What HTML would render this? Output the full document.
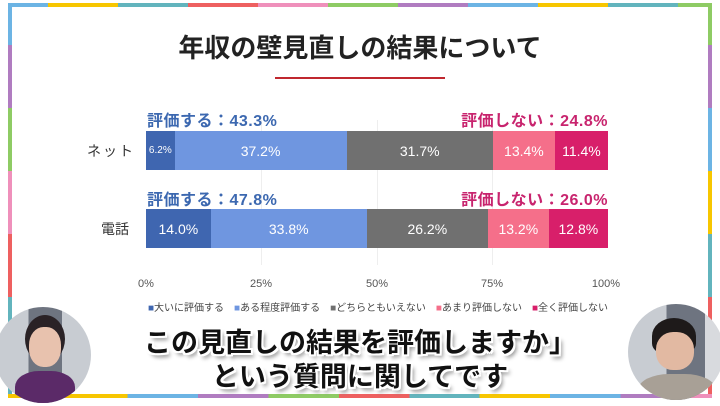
<!DOCTYPE html><html><head><meta charset="utf-8"><style>
body{margin:0;width:720px;height:406px;background:#fff;position:relative;overflow:hidden;font-family:"Liberation Sans","Noto Sans CJK JP",sans-serif}
.a{position:absolute}
.seg{position:absolute}
.bar{position:absolute;height:39px;display:flex}
.bar div{height:100%;color:#fff;font-size:14px;display:flex;align-items:center;justify-content:center}
.grid{position:absolute;top:120px;width:1px;height:145px;background:#eee}
.tick{position:absolute;top:278px;font-size:11px;color:#555;width:40px;margin-left:-20px;text-align:center}
.lab{position:absolute;font-size:16px;font-weight:bold;letter-spacing:0.5px}
.sub{position:absolute;left:0;width:720px;text-align:center;font-weight:bold;font-size:27px;color:#111;text-shadow:2px 2px 0 #fff,-2px -2px 0 #fff,2px -2px 0 #fff,-2px 2px 0 #fff,0 2px 0 #fff,2px 0 0 #fff,-2px 0 0 #fff,0 -2px 0 #fff,3px 4px 4px #888}
</style></head><body>
<div class="a" style="left:8px;top:3px;width:704px;height:395px;border:4px solid #eee;border-radius:5px;box-sizing:border-box"></div>
<div class="seg" style="left:8px;top:3px;width:40px;height:4px;background:#6cb4e4"></div>
<div class="seg" style="left:48px;top:3px;width:70px;height:4px;background:#f7c600"></div>
<div class="seg" style="left:118px;top:3px;width:70px;height:4px;background:#62b4bd"></div>
<div class="seg" style="left:188px;top:3px;width:70px;height:4px;background:#ee6060"></div>
<div class="seg" style="left:258px;top:3px;width:70px;height:4px;background:#ef90bb"></div>
<div class="seg" style="left:328px;top:3px;width:70px;height:4px;background:#8ecb64"></div>
<div class="seg" style="left:398px;top:3px;width:70px;height:4px;background:#b07cc0"></div>
<div class="seg" style="left:468px;top:3px;width:70px;height:4px;background:#6cb4e4"></div>
<div class="seg" style="left:538px;top:3px;width:70px;height:4px;background:#f7c600"></div>
<div class="seg" style="left:608px;top:3px;width:70px;height:4px;background:#62b4bd"></div>
<div class="seg" style="left:678px;top:3px;width:34px;height:4px;background:#8ecb64"></div>
<div class="seg" style="left:8px;top:3px;width:4px;height:42px;background:#6cb4e4"></div>
<div class="seg" style="left:8px;top:45px;width:4px;height:63px;background:#b07cc0"></div>
<div class="seg" style="left:8px;top:108px;width:4px;height:63px;background:#8ecb64"></div>
<div class="seg" style="left:8px;top:171px;width:4px;height:63px;background:#ef90bb"></div>
<div class="seg" style="left:8px;top:234px;width:4px;height:63px;background:#ee6060"></div>
<div class="seg" style="left:8px;top:297px;width:4px;height:101px;background:#62b4bd"></div>
<div class="seg" style="left:708px;top:3px;width:4px;height:42px;background:#8ecb64"></div>
<div class="seg" style="left:708px;top:45px;width:4px;height:63px;background:#b07cc0"></div>
<div class="seg" style="left:708px;top:108px;width:4px;height:63px;background:#6cb4e4"></div>
<div class="seg" style="left:708px;top:171px;width:4px;height:63px;background:#f7c600"></div>
<div class="seg" style="left:708px;top:234px;width:4px;height:63px;background:#62b4bd"></div>
<div class="seg" style="left:708px;top:297px;width:4px;height:101px;background:#ee6060"></div>
<div class="seg" style="left:8px;top:394px;width:704px;height:4px;background:linear-gradient(90deg,#f7c600 0 17%,#6cb4e4 17% 27%,#b07cc0 27% 37%,#8ecb64 37% 47%,#ee6060 47% 57%,#62b4bd 57% 67%,#f7c600 67% 77%,#6cb4e4 77% 87%,#b07cc0 87% 97%,#ef90bb 97%)"></div>

<div class="a" style="left:0;top:28px;width:720px;text-align:center;font-size:26px;font-weight:bold;color:#222">年収の壁見直しの結果について</div>
<div class="a" style="left:275px;top:77px;width:170px;height:2px;background:#c0282f"></div>

<div class="grid" style="left:261px"></div><div class="grid" style="left:377px"></div><div class="grid" style="left:492px"></div>

<div class="lab" style="left:147px;top:107px;color:#3c68b0">評価する：43.3%</div>
<div class="lab" style="left:440px;top:107px;color:#c8246e;width:168px;text-align:right">評価しない：24.8%</div>
<div class="lab" style="left:147px;top:186px;color:#3c68b0">評価する：47.8%</div>
<div class="lab" style="left:440px;top:186px;color:#c8246e;width:168px;text-align:right">評価しない：26.0%</div>
<div class="a" style="left:87px;top:141px;font-size:14px;color:#333;letter-spacing:2px">ネット</div>
<div class="a" style="left:101px;top:219px;font-size:14px;color:#333">電話</div>

<div class="bar" style="left:146px;top:131px;width:462px">
<div style="width:6.2%;background:#3f66b0;font-size:10px">6.2%</div>
<div style="width:37.2%;background:#6f96e0">37.2%</div>
<div style="width:31.7%;background:#707070">31.7%</div>
<div style="width:13.4%;background:#f56f8a">13.4%</div>
<div style="width:11.5%;background:#d81f6a">11.4%</div></div>
<div class="bar" style="left:146px;top:209px;width:462px">
<div style="width:14%;background:#3f66b0">14.0%</div>
<div style="width:33.8%;background:#6f96e0">33.8%</div>
<div style="width:26.2%;background:#707070">26.2%</div>
<div style="width:13.2%;background:#f56f8a">13.2%</div>
<div style="width:12.8%;background:#d81f6a">12.8%</div></div>

<div class="tick" style="left:146px">0%</div><div class="tick" style="left:261px">25%</div><div class="tick" style="left:377px">50%</div><div class="tick" style="left:492px">75%</div><div class="tick" style="left:606px">100%</div>

<div class="a" style="left:148px;top:299px;width:460px;font-size:10px;color:#444;white-space:nowrap;display:flex;justify-content:space-between">
<span><span style="color:#3f66b0">■</span>大いに評価する</span><span><span style="color:#6f96e0">■</span>ある程度評価する</span><span><span style="color:#707070">■</span>どちらともいえない</span><span><span style="color:#f56f8a">■</span>あまり評価しない</span><span><span style="color:#d81f6a">■</span>全く評価しない</span></div>

<div class="a" style="left:-5px;top:307px;width:96px;height:96px;border-radius:50%;overflow:hidden;background:linear-gradient(90deg,#c8ccd2 0 35%,#6e7480 35% 70%,#c8ccd2 70%)">
<div class="a" style="left:30px;top:8px;width:40px;height:48px;border-radius:50%;background:#2a2226"></div>
<div class="a" style="left:34px;top:20px;width:32px;height:40px;border-radius:45%;background:#e8c2ae"></div>
<div class="a" style="left:20px;top:64px;width:60px;height:40px;border-radius:40% 40% 0 0;background:#5b2a68"></div></div>
<div class="a" style="left:628px;top:304px;width:96px;height:96px;border-radius:50%;overflow:hidden;background:linear-gradient(90deg,#c8ccd2 0 40%,#6e7480 40% 80%,#d8dade 80%)">
<div class="a" style="left:24px;top:14px;width:44px;height:36px;border-radius:50% 50% 30% 30%;background:#1e1a1a"></div>
<div class="a" style="left:28px;top:28px;width:38px;height:38px;border-radius:45%;background:#e2b9a2"></div>
<div class="a" style="left:10px;top:70px;width:78px;height:40px;border-radius:40% 40% 0 0;background:#a8a096"></div></div>

<div class="sub" style="top:321px">この見直しの結果を評価しますか」</div>
<div class="sub" style="top:355px">という質問に関してです</div>
</body></html>
